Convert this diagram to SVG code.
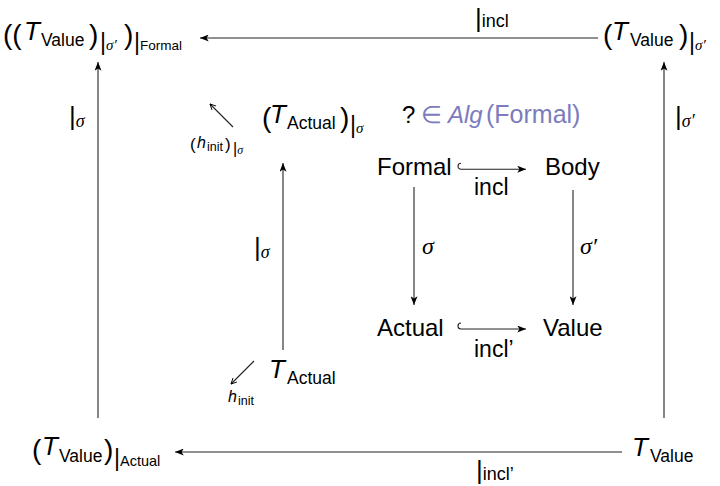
<svg xmlns="http://www.w3.org/2000/svg" width="720" height="486" viewBox="0 0 720 486">
<style>
text{font-family:"Liberation Sans",Arial,sans-serif;fill:#000}
.n{font-size:24px}
.p{font-size:28px}
.T{font-size:26px;font-style:italic}
.s{font-size:17.5px}
.ss{font-size:13.5px}
.b{font-size:23px}
.bb{font-size:26px}
.g{font-family:"Liberation Serif","DejaVu Serif",serif;font-style:italic}
.alg{fill:#7b7bbd}
.c{stroke:#222;stroke-width:1.1;fill:none}
.d{stroke:#222;stroke-width:1.1;fill:none}
</style>
<defs>
<marker id="ah" viewBox="0 0 10 8" refX="10" refY="4" markerWidth="9" markerHeight="7" markerUnits="userSpaceOnUse" orient="auto"><path d="M0,0 L10,4 L0,8 L2.5,4 z" fill="#000"/></marker>
<marker id="oh" viewBox="0 0 10 10" refX="9" refY="5" markerWidth="7" markerHeight="7" markerUnits="userSpaceOnUse" orient="auto"><path d="M1,1 L9,5 L1,9" fill="none" stroke="#000" stroke-width="1.3"/></marker>
</defs>

<g id="connectors">
<line class="c" x1="598" y1="38" x2="200" y2="38" marker-end="url(#ah)"/>
<line class="c" x1="622" y1="452" x2="175" y2="452" marker-end="url(#ah)"/>
<line class="c" x1="98" y1="418" x2="98" y2="62" marker-end="url(#ah)"/>
<line class="c" x1="664" y1="418" x2="664" y2="62" marker-end="url(#ah)"/>
<line class="c" x1="283" y1="350" x2="283" y2="163" marker-end="url(#ah)"/>
<path class="c" d="M461,163.2 A3,3 0 0 0 461,169.2 L526,169.2" marker-end="url(#ah)"/>
<path class="c" d="M461,323 A3,3 0 0 0 461,329 L526,329" marker-end="url(#ah)"/>
<line class="c" x1="414" y1="187" x2="414" y2="305" marker-end="url(#ah)"/>
<line class="c" x1="573" y1="190" x2="573" y2="305" marker-end="url(#ah)"/>
<line class="d" x1="233" y1="127" x2="210" y2="104" marker-end="url(#oh)"/>
<line class="d" x1="254" y1="361" x2="231" y2="384" marker-end="url(#oh)"/>
<text x="475" y="27"><tspan class="bb">|</tspan><tspan font-size="18">incl</tspan></text>
<text x="476" y="479"><tspan class="bb">|</tspan><tspan font-size="18" dy="1">incl’</tspan></text>
<text x="69" y="125"><tspan class="bb">|</tspan><tspan class="g" font-size="18" dy="2">σ</tspan></text>
<text x="675" y="125"><tspan class="bb">|</tspan><tspan class="g" font-size="18" dy="2">σ′</tspan></text>
<text x="254" y="256"><tspan class="bb">|</tspan><tspan class="g" font-size="18" dy="2">σ</tspan></text>
<text x="474" y="195" font-size="23">incl</text>
<text x="474" y="357" font-size="23">incl’</text>
<text class="g" x="422" y="254" font-size="24">σ</text>
<text class="g" x="580" y="254" font-size="24">σ′</text>
</g>

<g id="n-tl">
<text class="p" x="3" y="44">((</text>
<text class="T" x="24" y="40">T</text>
<text class="s" x="41" y="46">Value</text>
<text class="p" x="89" y="44">)</text>
<text x="100" y="50"><tspan class="b">|</tspan><tspan class="g" font-size="15">σ′</tspan></text>
<text class="p" x="124" y="44">)</text>
<text x="134" y="50"><tspan class="b">|</tspan><tspan class="ss">Formal</tspan></text>
</g>

<g id="n-tr">
<text class="p" x="603" y="44">(</text>
<text class="T" x="612" y="40">T</text>
<text class="s" x="630" y="46">Value</text>
<text class="p" x="679" y="44">)</text>
<text x="689" y="50"><tspan class="b">|</tspan><tspan class="g" font-size="15">σ′</tspan></text>
</g>

<g id="n-bl">
<text class="p" x="32" y="459">(</text>
<text class="T" x="42" y="455">T</text>
<text class="s" x="59" y="462">Value</text>
<text class="p" x="104" y="459">)</text>
<text x="114" y="466"><tspan class="b">|</tspan><tspan font-size="14.5">Actual</tspan></text>
</g>

<g id="n-br">
<text class="T" x="632" y="456">T</text>
<text class="s" x="650" y="462">Value</text>
</g>

<g id="n-tactual-sigma">
<text class="p" x="262" y="127">(</text>
<text class="T" x="270" y="123">T</text>
<text class="s" x="287" y="129">Actual</text>
<text class="p" x="340" y="127">)</text>
<text x="350" y="133"><tspan class="b">|</tspan><tspan class="g" font-size="15">σ</tspan></text>
</g>

<g id="n-hinit-sigma">
<text x="190" y="150" font-size="17">(</text>
<text x="197" y="148" font-size="16" font-style="italic">h</text>
<text x="207" y="151" font-size="12.5">init</text>
<text x="225" y="150" font-size="17">)</text>
<text x="233" y="154"><tspan font-size="16">|</tspan><tspan class="g" font-size="12">σ</tspan></text>
</g>

<g id="n-alg">
<text class="n" x="402" y="123">?</text>
<text class="n alg" x="421" y="123">∈</text>
<text class="n alg" x="448" y="123" font-style="italic">Alg</text>
<text class="alg" x="486" y="123" font-size="25">(Formal)</text>
</g>

<g id="n-formal"><text class="n" x="377" y="175">Formal</text></g>
<g id="n-body"><text class="n" x="545" y="175">Body</text></g>
<g id="n-actual"><text class="n" x="377" y="336">Actual</text></g>
<g id="n-value"><text class="n" x="543" y="336">Value</text></g>

<g id="n-tactual">
<text class="T" x="269" y="378">T</text>
<text class="s" x="287" y="384">Actual</text>
</g>

<g id="n-hinit">
<text x="228" y="402" font-size="16" font-style="italic">h</text>
<text x="238" y="405" font-size="12.5">init</text>
</g>
</svg>
